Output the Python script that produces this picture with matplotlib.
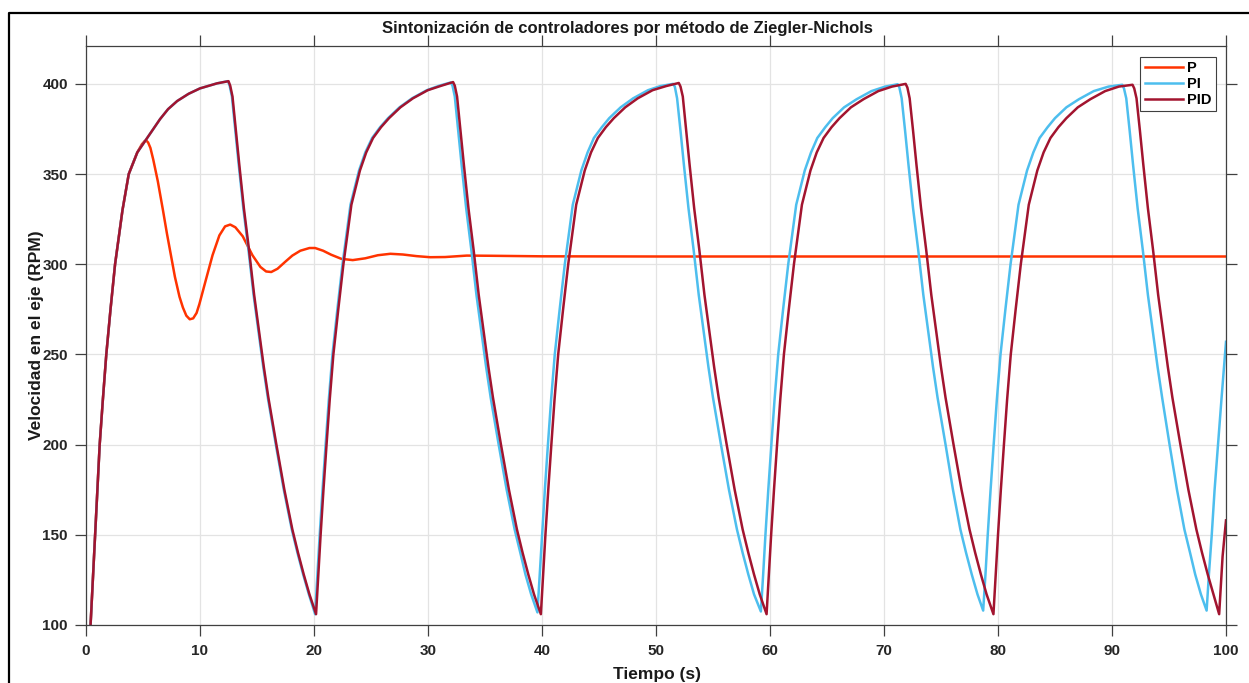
import matplotlib
matplotlib.use('Agg')
import matplotlib.pyplot as plt
from matplotlib.lines import Line2D

t_p = [0.40, 0.60, 0.80, 1.00, 1.20, 1.48, 1.78, 2.15, 2.55, 3.2, 3.75, 4.5, 4.9, 5.15,
       5.3, 5.45, 5.65, 5.9, 6.3, 6.75, 7.1, 7.45, 7.8, 8.2, 8.5, 8.8, 9.1, 9.4, 9.7,
       9.95, 10.5, 11.1, 11.7, 12.2, 12.65, 13.1, 13.75, 14.6, 15.3, 15.8, 16.25,
       16.8, 17.5, 18.1, 18.8, 19.6, 20.1, 20.8, 21.5, 22.4, 23.4, 24.5, 25.6, 26.7,
       27.8, 29.0, 30.2, 31.5, 33.4, 35.5, 40.0, 50.0, 100.0]
v_p = [100, 125, 150, 175, 200, 225, 250, 275, 300, 330, 350, 362, 366.5, 368.3,
       368.5, 367.5, 364.5, 358, 346, 330, 317, 305, 293, 282, 276, 271.5, 269.5, 270,
       273, 278, 291, 305, 316, 321, 322, 320.5, 315.5, 305, 298.5, 296, 295.7,
       297.5, 301.5, 304.8, 307.5, 309, 309, 307.5, 305.3, 303, 302.3, 303.3, 305, 305.8,
       305.4, 304.5, 303.9, 304, 304.8, 304.7, 304.4, 304.3, 304.3]

t_pi = [0.40, 0.60, 0.80, 1.00, 1.20, 1.48, 1.78, 2.15, 2.55, 3.2, 3.75, 4.5, 5.26, 5.9,
        6.5, 7.2, 8.0, 9.0, 10.0, 11.5, 12.45,
        12.6, 12.8, 13.1, 13.4, 13.8, 14.25, 14.7, 15.15, 15.55, 15.95, 16.65, 17.35,
        18.05, 18.55, 19.05, 19.55, 20.1,
        20.3, 20.5, 20.75, 21.02, 21.3, 21.62, 22.05, 22.5, 23.2, 23.95, 24.5, 25.1,
        25.8, 26.5, 27.5, 28.6, 29.9, 31.0, 32.0,
        32.15, 32.35, 32.65, 32.95, 33.35, 33.8, 34.25, 34.7, 35.1, 35.5, 36.2, 36.9,
        37.6, 38.1, 38.55, 39.05, 39.6,
        39.8, 40.0, 40.25, 40.52, 40.8, 41.12, 41.55, 42.0, 42.7, 43.45, 44.0, 44.55,
        45.25, 45.9, 46.9, 48.0, 49.3, 50.4, 51.5,
        51.65, 51.85, 52.15, 52.45, 52.85, 53.3, 53.75, 54.2, 54.6, 55.0, 55.7, 56.4,
        57.1, 57.6, 58.1, 58.6, 59.2,
        59.4, 59.6, 59.85, 60.12, 60.4, 60.72, 61.15, 61.6, 62.3, 63.05, 63.6, 64.15,
        64.85, 65.5, 66.5, 67.6, 68.9, 70.1, 71.2,
        71.35, 71.55, 71.85, 72.15, 72.55, 73.0, 73.45, 73.9, 74.3, 74.7, 75.4, 76.05,
        76.7, 77.2, 77.7, 78.2, 78.7,
        78.9, 79.1, 79.35, 79.62, 79.9, 80.22, 80.65, 81.1, 81.8, 82.55, 83.1, 83.65,
        84.35, 85.0, 86.0, 87.1, 88.4, 89.7, 90.9,
        91.05, 91.25, 91.55, 91.85, 92.25, 92.7, 93.15, 93.6, 94.0, 94.4, 95.05, 95.7,
        96.35, 96.85, 97.3, 97.8, 98.3,
        98.5, 98.75, 99.0, 99.3, 99.6, 100.0]
v_pi = [100, 125, 150, 175, 200, 225, 250, 275, 300, 330, 350, 362, 369, 375,
        380.5, 386, 390.5, 394.5, 397.5, 400.3, 401.5,
        399, 393, 374, 355, 331, 308, 283, 262, 243, 226, 200, 175,
        153, 140, 128, 117, 106,
        128, 150, 175, 200, 225, 250, 275, 300, 333, 352, 362, 370,
        376, 381, 387, 392, 396.5, 399, 400.8,
        399, 393, 374, 355, 331, 308, 283, 262, 243, 226, 200, 175,
        153, 140, 128, 117, 107,
        128, 150, 175, 200, 225, 250, 275, 300, 333, 352, 362, 370,
        376, 381, 387, 392, 396.5, 398.8, 400,
        398.5, 392, 374, 355, 331, 308, 283, 262, 243, 226, 200, 175,
        153, 140, 128, 117, 107.5,
        128, 150, 175, 200, 225, 250, 275, 300, 333, 352, 362, 370,
        376, 381, 387, 391.5, 396, 398.5, 399.8,
        398, 392, 374, 355, 331, 308, 283, 262, 243, 226, 200, 175,
        153, 140, 128, 117, 108,
        128, 150, 175, 200, 225, 250, 275, 300, 333, 352, 362, 370,
        376, 381, 387, 391.5, 396, 398.5, 399.5,
        397.5, 392, 374, 355, 331, 308, 283, 262, 243, 226, 200, 175,
        153, 140, 128, 117, 108,
        128, 150, 175, 200, 225, 257]

t_pid = [0.40, 0.60, 0.80, 1.00, 1.20, 1.48, 1.78, 2.15, 2.55, 3.2, 3.75, 4.5, 5.26, 5.9,
         6.5, 7.2, 8.0, 9.0, 10.0, 11.5, 12.5,
         12.65, 12.85, 13.15, 13.45, 13.85, 14.3, 14.75, 15.2, 15.6, 16.0, 16.7, 17.4,
         18.1, 18.6, 19.1, 19.6, 20.18,
         20.38, 20.58, 20.83, 21.1, 21.38, 21.7, 22.13, 22.58, 23.28, 24.03, 24.58, 25.18,
         25.88, 26.58, 27.58, 28.68, 29.98, 31.18, 32.2,
         32.35, 32.55, 32.85, 33.15, 33.55, 34.0, 34.45, 34.9, 35.3, 35.7, 36.4, 37.1,
         37.8, 38.3, 38.8, 39.3, 39.9,
         40.1, 40.3, 40.55, 40.82, 41.1, 41.42, 41.85, 42.3, 43.0, 43.75, 44.3, 44.9,
         45.6, 46.3, 47.3, 48.4, 49.7, 50.9, 52.0,
         52.15, 52.35, 52.65, 52.95, 53.35, 53.8, 54.25, 54.7, 55.1, 55.5, 56.2, 56.9,
         57.6, 58.1, 58.6, 59.1, 59.7,
         59.9, 60.1, 60.35, 60.62, 60.9, 61.22, 61.65, 62.1, 62.8, 63.55, 64.1, 64.7,
         65.4, 66.1, 67.1, 68.2, 69.5, 70.7, 71.9,
         72.05, 72.25, 72.55, 72.85, 73.25, 73.7, 74.15, 74.6, 75.0, 75.4, 76.1, 76.8,
         77.5, 78.0, 78.5, 79.0, 79.6,
         79.8, 80.0, 80.25, 80.52, 80.8, 81.12, 81.55, 82.0, 82.7, 83.45, 84.0, 84.6,
         85.3, 86.0, 87.0, 88.1, 89.4, 90.6, 91.8,
         91.95, 92.15, 92.45, 92.75, 93.15, 93.6, 94.05, 94.5, 94.9, 95.3, 96.0, 96.7,
         97.4, 97.9, 98.4, 98.9, 99.4,
         99.7, 100.0]
v_pid = [100, 125, 150, 175, 200, 225, 250, 275, 300, 330, 350, 362, 369, 375,
         380.5, 386, 390.5, 394.5, 397.5, 400.3, 401.5,
         399, 393, 374, 355, 331, 308, 283, 262, 243, 226, 200, 175,
         153, 140, 128, 117, 106,
         128, 150, 175, 200, 225, 250, 275, 300, 333, 352, 362, 370,
         376, 381, 387, 392, 396.5, 399, 401,
         399, 393, 374, 355, 331, 308, 283, 262, 243, 226, 200, 175,
         153, 140, 128, 117, 106,
         128, 150, 175, 200, 225, 250, 275, 300, 333, 352, 362, 370,
         376, 381, 387, 392, 396.5, 398.8, 400.5,
         398.5, 393, 374, 355, 331, 308, 283, 262, 243, 226, 200, 175,
         153, 140, 128, 117, 106,
         128, 150, 175, 200, 225, 250, 275, 300, 333, 352, 362, 370,
         376, 381, 387, 391.5, 396, 398.5, 400,
         398, 392, 374, 355, 331, 308, 283, 262, 243, 226, 200, 175,
         153, 140, 128, 117, 106,
         128, 150, 175, 200, 225, 250, 275, 300, 333, 352, 362, 370,
         376, 381, 387, 391.5, 396, 398.5, 399.5,
         397.5, 392, 374, 355, 331, 308, 283, 262, 243, 226, 200, 175,
         153, 140, 128, 117, 106,
         138, 158]

x_ticks = [0, 10, 20, 30, 40, 50, 60, 70, 80, 90, 100]
y_ticks = [100, 150, 200, 250, 300, 350, 400]

plt.rcParams['font.family'] = ['Liberation Sans', 'DejaVu Sans']
plt.rcParams['font.weight'] = 'bold'

W, H = 1249, 683
fig = plt.figure(figsize=(W / 100, H / 100), dpi=100)
ax = fig.add_axes([86 / W, (H - 625) / H, 1140 / W, (625 - 46) / H])

ax.plot(t_p, v_p, color='#FF3300', lw=1.8, label='P')
ax.plot(t_pi, v_pi, color='#4DBEEE', lw=1.8, label='PI')
ax.plot(t_pid, v_pid, color='#A2142F', lw=1.8, label='PID')

ax.set_xlim(0, 100)
ax.set_ylim(100, 421)
ax.set_xticks(x_ticks)
ax.set_yticks(y_ticks)
ax.grid(True, color='#e3e3e3', lw=0.9)
ax.set_axisbelow(True)
ax.tick_params(direction='out', length=8, width=0.9, colors='#404040',
               top=True, right=True, labelsize=11)
ax.tick_params(axis='x', pad=6, labelcolor='#262626')
ax.tick_params(axis='y', pad=5, labelcolor='#262626')
for sp in ax.spines.values():
    sp.set_color('#404040')
    sp.set_linewidth(0.9)

leg = ax.legend(loc='upper right', bbox_to_anchor=(1216 / W, 1 - 57 / H),
                bbox_transform=fig.transFigure, borderaxespad=0, fontsize=10.5,
                handlelength=2.6, handletextpad=0.3, labelspacing=0.12,
                borderpad=0.3, fancybox=False, framealpha=1)
leg.get_frame().set_edgecolor('#404040')
leg.get_frame().set_linewidth(0.8)

fig.text(627 / W, 1 - 28 / H, 'Sintonización de controladores por método de Ziegler-Nichols',
         ha='center', va='center', fontsize=12, fontweight='bold', color='#1a1a1a')
fig.text(657 / W, 1 - 675 / H, 'Tiempo (s)', ha='center', va='center',
         fontsize=12.5, fontweight='bold', color='#1a1a1a')
fig.text(37 / W, 1 - 335 / H, 'Velocidad en el eje (RPM)', ha='center', va='center',
         rotation=90, fontsize=12.5, fontweight='bold', color='#1a1a1a')

# outer window border, running off the right and bottom edges
fig.add_artist(Line2D([9 / W, 9 / W, 1.01], [-0.01, 1 - 12.5 / H, 1 - 12.5 / H],
                      transform=fig.transFigure, color='black', lw=1.6))

fig.savefig('out.png', dpi=100)
